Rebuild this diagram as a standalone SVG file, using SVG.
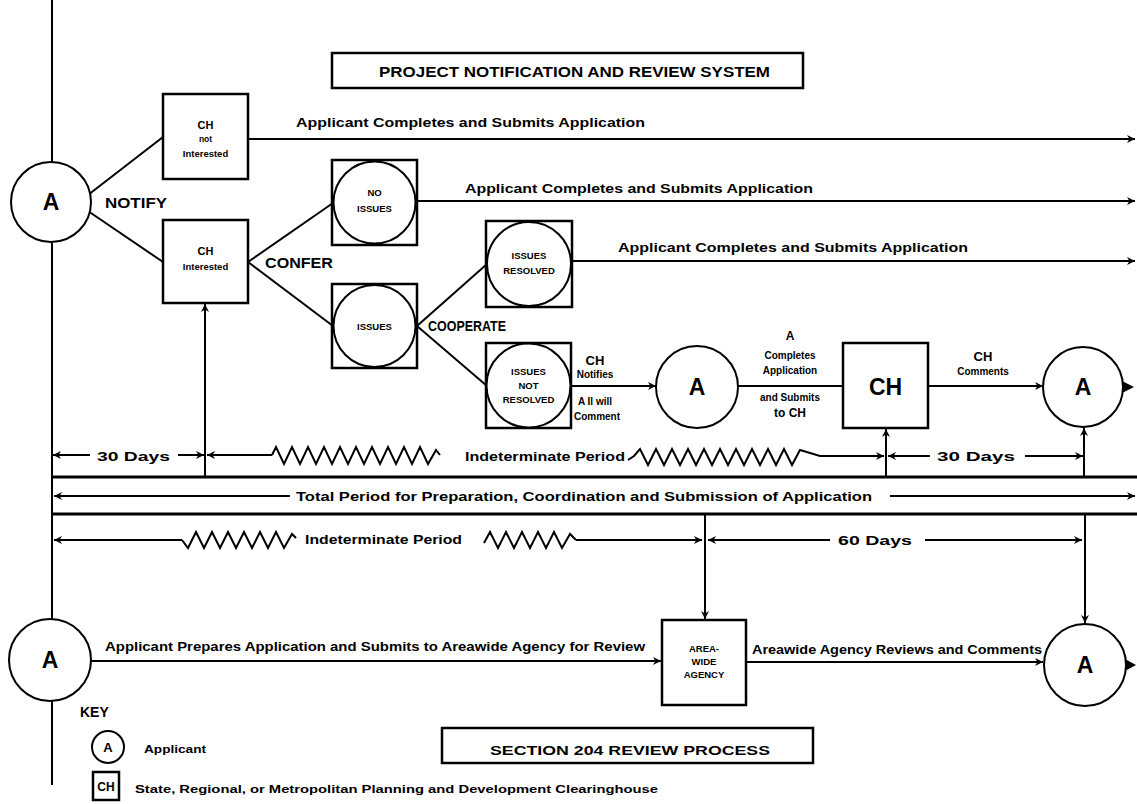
<svg xmlns="http://www.w3.org/2000/svg" width="1137" height="804" viewBox="0 0 1137 804">
<style>
.ln{stroke:#000;stroke-width:2;fill:none}
.bx{stroke:#000;stroke-width:2.5;fill:#fff}
.cr{stroke:#000;stroke-width:2;fill:#fff}
.band{stroke:#000;stroke-width:3;fill:none}
.zz{stroke:#000;stroke-width:2;fill:none;stroke-linejoin:miter}
.t{font-family:"Liberation Sans",Arial,sans-serif;font-weight:bold;fill:#000}
.m{font-size:12.5px}
.s{font-size:9.5px;text-anchor:middle}
.s11{font-size:11px}
.s8{font-size:8.5px}
.c{text-anchor:middle}
.big{font-size:23px;text-anchor:middle}
.hd{font-size:14px}
</style>
<defs>
<marker id="ah" viewBox="0 0 10 10" refX="10" refY="5" markerWidth="11" markerHeight="8" markerUnits="userSpaceOnUse" orient="auto">
<path d="M0,0 L10,5 L0,10 L3,5 z" fill="#000"/>
</marker>
</defs>
<rect width="1137" height="804" fill="#fff"/>

<g id="connectors">
<line class="ln" x1="52" y1="0" x2="52" y2="162"/>
<line class="ln" x1="52" y1="243" x2="52" y2="620"/>
<line class="ln" x1="52" y1="701" x2="52" y2="785"/>
<line class="ln" x1="88" y1="195" x2="163" y2="137"/>
<line class="ln" x1="88" y1="211" x2="163" y2="262"/>
<line class="ln" x1="248" y1="139" x2="1135" y2="139" marker-end="url(#ah)"/>
<line class="ln" x1="248" y1="262" x2="333" y2="203"/>
<line class="ln" x1="248" y1="262" x2="333" y2="326"/>
<line class="ln" x1="417" y1="201" x2="1135" y2="201" marker-end="url(#ah)"/>
<line class="ln" x1="417" y1="326" x2="487" y2="264"/>
<line class="ln" x1="417" y1="326" x2="487" y2="386"/>
<line class="ln" x1="572" y1="261" x2="1135" y2="261" marker-end="url(#ah)"/>
<line class="ln" x1="571" y1="386" x2="656" y2="386" marker-end="url(#ah)"/>
<line class="ln" x1="738" y1="386" x2="843" y2="386"/>
<line class="ln" x1="928" y1="386" x2="1043" y2="386" marker-end="url(#ah)"/>
<polygon points="1122,381 1134,387 1122,393" fill="#000"/>
<line class="ln" x1="90" y1="455" x2="53" y2="455" marker-end="url(#ah)"/>
<line class="ln" x1="178" y1="455" x2="204" y2="455" marker-end="url(#ah)"/>
<line class="ln" x1="205" y1="477" x2="205" y2="304" marker-end="url(#ah)"/>
<line class="ln" x1="272" y1="455" x2="207" y2="455" marker-end="url(#ah)"/>
<polyline class="zz" points="272,455 276,447 284,464 292,447 300,464 308,447 316,464 324,447 332,464 340,447 348,464 356,447 364,464 372,447 380,464 388,447 396,464 404,447 412,464 420,447 428,464 436,450 440,455"/>
<polyline class="zz" points="628,460 634,456 640,449 648,465 656,449 664,465 672,449 680,465 688,449 696,465 704,449 712,465 720,449 728,465 736,449 744,465 752,449 760,465 768,449 776,465 784,449 792,465 800,450 820,456 832,456"/>
<line class="ln" x1="832" y1="456" x2="884" y2="456" marker-end="url(#ah)"/>
<line class="ln" x1="886" y1="477" x2="886" y2="429" marker-end="url(#ah)"/>
<line class="ln" x1="930" y1="456" x2="888" y2="456" marker-end="url(#ah)"/>
<line class="ln" x1="1025" y1="456" x2="1083" y2="456" marker-end="url(#ah)"/>
<line class="ln" x1="1084" y1="477" x2="1084" y2="428" marker-end="url(#ah)"/>
<line class="band" x1="52" y1="477" x2="1137" y2="477"/>
<line class="band" x1="52" y1="514" x2="1137" y2="514"/>
<line class="ln" x1="290" y1="496" x2="54" y2="496" marker-end="url(#ah)"/>
<line class="ln" x1="890" y1="496" x2="1135" y2="496" marker-end="url(#ah)"/>
<line class="ln" x1="182" y1="540" x2="54" y2="540" marker-end="url(#ah)"/>
<polyline class="zz" points="182,540 188,548 196,532 204,548 212,532 220,548 228,532 236,548 244,532 252,548 260,532 268,548 276,532 284,548 292,534 296,538"/>
<polyline class="zz" points="484,543 490,532 498,548 506,532 514,548 522,532 530,548 538,532 546,548 554,532 562,548 570,534 576,540"/>
<line class="ln" x1="576" y1="540" x2="702" y2="540" marker-end="url(#ah)"/>
<line class="ln" x1="705" y1="514" x2="705" y2="619" marker-end="url(#ah)"/>
<line class="ln" x1="830" y1="540" x2="708" y2="540" marker-end="url(#ah)"/>
<line class="ln" x1="925" y1="540" x2="1082" y2="540" marker-end="url(#ah)"/>
<line class="ln" x1="1085" y1="514" x2="1085" y2="623" marker-end="url(#ah)"/>
<line class="ln" x1="91" y1="661" x2="661" y2="661" marker-end="url(#ah)"/>
<line class="ln" x1="746" y1="662" x2="1043" y2="662" marker-end="url(#ah)"/>
<polygon points="1125,659 1136,665 1125,671" fill="#000"/>
</g>

<g id="title-pnrs">
<rect class="bx" x="332" y="53" width="471" height="35"/>
<text class="t" x="379" y="77" font-size="14" textLength="391" lengthAdjust="spacingAndGlyphs">PROJECT NOTIFICATION AND REVIEW SYSTEM</text>
</g>

<g id="node-A1">
<circle class="cr" cx="51" cy="202" r="40"/>
<text class="t big" x="51" y="210">A</text>
</g>

<g id="node-ch-not">
<rect class="bx" x="163" y="94" width="85" height="85"/>
<text class="t s s11" x="205.5" y="129">CH</text>
<text class="t s s8" x="205.5" y="142">not</text>
<text class="t s" x="205.5" y="157">Interested</text>
</g>

<g id="node-ch-int">
<rect class="bx" x="163" y="220" width="85" height="83"/>
<text class="t s s11" x="205.5" y="255">CH</text>
<text class="t s" x="205.5" y="270">Interested</text>
</g>

<g id="node-no-issues">
<rect class="bx" x="332" y="160" width="85" height="85"/>
<circle class="cr" cx="374.5" cy="202.5" r="41"/>
<text class="t s" x="374.5" y="196">NO</text>
<text class="t s" x="374.5" y="212">ISSUES</text>
</g>

<g id="node-issues">
<rect class="bx" x="332" y="284" width="85" height="84"/>
<circle class="cr" cx="374.5" cy="326" r="41"/>
<text class="t s" x="374.5" y="330">ISSUES</text>
</g>

<g id="node-issues-resolved">
<rect class="bx" x="486" y="221" width="86" height="86"/>
<circle class="cr" cx="529" cy="264" r="42"/>
<text class="t s" x="529" y="259">ISSUES</text>
<text class="t s" x="529" y="274">RESOLVED</text>
</g>

<g id="node-issues-not-resolved">
<rect class="bx" x="486" y="343" width="85" height="85"/>
<circle class="cr" cx="528.5" cy="385.5" r="42"/>
<text class="t s" x="528.5" y="375">ISSUES</text>
<text class="t s" x="528.5" y="389">NOT</text>
<text class="t s" x="528.5" y="403">RESOLVED</text>
</g>

<g id="node-A2">
<circle class="cr" cx="697" cy="387" r="41"/>
<text class="t big" x="697" y="395">A</text>
</g>

<g id="node-CH">
<rect class="bx" x="843" y="343" width="85" height="85"/>
<text class="t big" x="885.5" y="395">CH</text>
</g>

<g id="node-A3">
<circle class="cr" cx="1083" cy="387" r="40"/>
<text class="t big" x="1083" y="395">A</text>
</g>

<g id="node-A4">
<circle class="cr" cx="50" cy="660" r="41"/>
<text class="t big" x="50" y="668">A</text>
</g>

<g id="node-areawide">
<rect class="bx" x="662" y="620" width="84" height="85"/>
<text class="t s" x="704" y="652">AREA-</text>
<text class="t s" x="704" y="665">WIDE</text>
<text class="t s" x="704" y="678">AGENCY</text>
</g>

<g id="node-A5">
<circle class="cr" cx="1085" cy="665" r="41"/>
<text class="t big" x="1085" y="673">A</text>
</g>

<g id="labels">
<text class="t hd" x="105" y="208" textLength="62" lengthAdjust="spacingAndGlyphs">NOTIFY</text>
<text class="t hd" x="265" y="268" textLength="68" lengthAdjust="spacingAndGlyphs">CONFER</text>
<text class="t hd" x="428" y="331" textLength="78" lengthAdjust="spacingAndGlyphs">COOPERATE</text>
<text class="t m" x="296" y="127" textLength="349" lengthAdjust="spacingAndGlyphs">Applicant Completes and Submits Application</text>
<text class="t m" x="465" y="193" textLength="348" lengthAdjust="spacingAndGlyphs">Applicant Completes and Submits Application</text>
<text class="t m" x="618" y="252" textLength="350" lengthAdjust="spacingAndGlyphs">Applicant Completes and Submits Application</text>
<text class="t c" x="595" y="365" font-size="13">CH</text>
<text class="t c" x="595" y="378" font-size="10">Notifies</text>
<text class="t c" x="595" y="405" font-size="10">A Il will</text>
<text class="t c" x="597" y="420" font-size="10">Comment</text>
<text class="t c" x="790" y="340" font-size="12">A</text>
<text class="t c" x="790" y="359" font-size="10">Completes</text>
<text class="t c" x="790" y="374" font-size="10">Application</text>
<text class="t c" x="790" y="401" font-size="10">and Submits</text>
<text class="t c" x="790" y="417" font-size="12">to CH</text>
<text class="t c" x="983" y="361" font-size="13">CH</text>
<text class="t c" x="983" y="375" font-size="10">Comments</text>
<text class="t m" x="97" y="461" textLength="73" lengthAdjust="spacingAndGlyphs">30 Days</text>
<text class="t m" x="465" y="461" textLength="160" lengthAdjust="spacingAndGlyphs">Indeterminate Period</text>
<text class="t m" x="937" y="461" textLength="78" lengthAdjust="spacingAndGlyphs">30 Days</text>
<text class="t m" x="296" y="501" textLength="576" lengthAdjust="spacingAndGlyphs">Total Period for Preparation, Coordination and Submission of Application</text>
<text class="t m" x="305" y="544" textLength="157" lengthAdjust="spacingAndGlyphs">Indeterminate Period</text>
<text class="t m" x="838" y="545" textLength="74" lengthAdjust="spacingAndGlyphs">60 Days</text>
<text class="t m" x="105" y="651" textLength="540" lengthAdjust="spacingAndGlyphs">Applicant Prepares Application and Submits to Areawide Agency for Review</text>
<text class="t m" x="752" y="654" textLength="290" lengthAdjust="spacingAndGlyphs">Areawide Agency Reviews and Comments</text>
</g>

<g id="title-204">
<rect class="bx" x="442" y="728" width="371" height="35"/>
<text class="t" x="490" y="755" font-size="13" textLength="280" lengthAdjust="spacingAndGlyphs">SECTION 204 REVIEW PROCESS</text>
</g>

<g id="key">
<text class="t hd" x="80" y="717">KEY</text>
<circle class="cr" cx="108" cy="747" r="16"/>
<text class="t c" x="108" y="752" font-size="13">A</text>
<text class="t" x="144" y="753" font-size="11" textLength="62" lengthAdjust="spacingAndGlyphs">Applicant</text>
<rect class="bx" x="93" y="772" width="26" height="28"/>
<text class="t c" x="106" y="791" font-size="12">CH</text>
<text class="t" x="135" y="793" font-size="11" textLength="523" lengthAdjust="spacingAndGlyphs">State, Regional, or Metropolitan Planning and Development Clearinghouse</text>
</g>
</svg>
